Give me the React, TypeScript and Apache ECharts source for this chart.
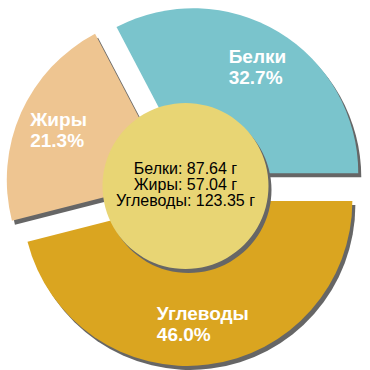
import React, { useEffect, useRef } from "react";
import * as echarts from "echarts";

const categories = ["Белки", "Жиры", "Углеводы"];
const grams = [87.64, 57.04, 123.35];
const colors = ["#7AC4CC", "#EEC591", "#DAA520"];
const unit = "г";

export default function App() {
  const ref = useRef<HTMLDivElement>(null);
  useEffect(() => {
    const chart = echarts.init(ref.current!, null, { renderer: "svg" });
    const total = grams.reduce((a, b) => a + b, 0);
    const pct = grams.map((g) => ((g / total) * 100).toFixed(1));
    const base: any = {
      type: "pie",
      startAngle: 0,
      clockwise: false,
      selectedMode: "multiple",
      selectedOffset: 15,
      silent: true,
      avoidLabelOverlap: false,
      emphasis: { disabled: true },
      labelLine: { show: false },
    };
    const mk = (extra: (i: number) => any) =>
      categories.map((name, i) => ({ name, value: grams[i], selected: true, ...extra(i) }));
    const centerText = categories.map((c, i) => `${c}: ${grams[i].toFixed(2)} ${unit}`).join("\n");
    chart.setOption({
      animation: false,
      series: [
        {
          ...base,
          center: [188.5, 190],
          radius: 165,
          data: mk(() => ({ itemStyle: { color: "#666666", borderWidth: 0 } })),
          label: { show: false },
        },
        {
          ...base,
          center: [185.5, 186],
          radius: 165,
          data: mk((i) => ({ itemStyle: { color: colors[i], borderWidth: 0 } })),
          label: { show: false },
        },
        {
          ...base,
          center: [185.5, 186],
          radius: [77, 165],
          data: mk(() => ({ itemStyle: { color: "rgba(0,0,0,0)", borderWidth: 0 } })),
          label: {
            show: true,
            position: "inside",
            formatter: (p: any) => `{t|${p.name}}\n{t|${pct[p.dataIndex]}%}`,
            rich: {
              t: {
                align: "left",
                color: "#ffffff",
                fontWeight: "bold",
                fontSize: 19,
                lineHeight: 21,
                fontFamily: "Liberation Sans, Arial, sans-serif",
              },
            },
          },
        },
        {
          type: "pie",
          silent: true,
          center: [188.5, 190],
          radius: 83,
          emphasis: { disabled: true },
          labelLine: { show: false },
          data: [{ value: 1, name: "shadow", itemStyle: { color: "#666666", borderWidth: 0 } }],
          label: { show: false },
        },
        {
          type: "pie",
          silent: true,
          center: [185.5, 186],
          radius: 83,
          emphasis: { disabled: true },
          labelLine: { show: false },
          data: [{ value: 1, name: "total", itemStyle: { color: "#E8D574", borderWidth: 0 } }],
          label: {
            show: true,
            position: "center",
            formatter: () => centerText,
            color: "#000000",
            fontSize: 16,
            lineHeight: 16,
            offset: [0, -2],
            fontFamily: "Liberation Sans, Arial, sans-serif",
          },
        },
      ],
    });
    return () => chart.dispose();
  }, []);
  return (
    <div
      ref={ref}
      style={{ position: "absolute", left: 0, top: 0, width: 370, height: 370, background: "#ffffff" }}
    />
  );
}
